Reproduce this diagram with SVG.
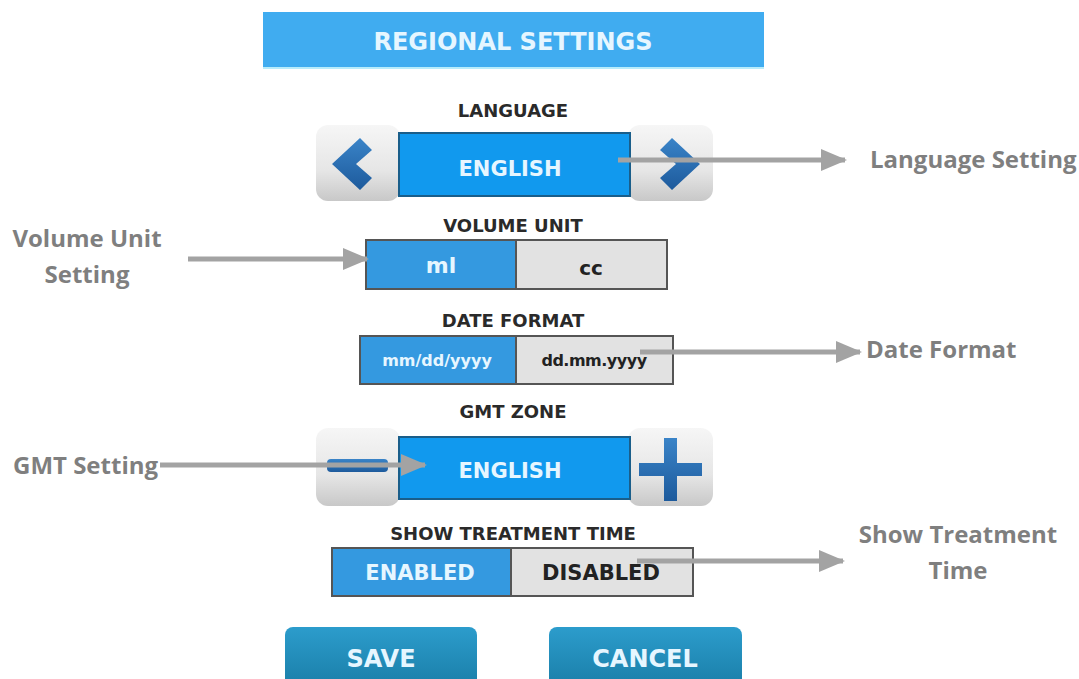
<svg xmlns="http://www.w3.org/2000/svg" width="1079" height="679" viewBox="0 0 1079 679">
<defs>
<style>
.ui{font-family:"DejaVu Sans","Liberation Sans",sans-serif;font-weight:bold;text-anchor:middle}
.lbl{font-size:18px;fill:#2a2a2a}
.wt{fill:#e6f6ff}
.call{font-family:"Open Sans","Liberation Sans",sans-serif;font-weight:bold;font-size:24px;fill:#7f7f7f}
.conn{stroke:#a3a3a3;stroke-width:5;fill:none}
.seg-on{fill:#3499e0;stroke:#555;stroke-width:2}
</style>
<linearGradient id="btn" x1="0" y1="0" x2="0" y2="1">
<stop offset="0" stop-color="#f6f6f6"/><stop offset="0.6" stop-color="#e6e6e6"/><stop offset="1" stop-color="#c8c8c8"/>
</linearGradient>
<linearGradient id="ico" x1="0" y1="0" x2="0" y2="1">
<stop offset="0" stop-color="#3a84c8"/><stop offset="1" stop-color="#1d5a9c"/>
</linearGradient>
<linearGradient id="act" x1="0" y1="0" x2="0" y2="1">
<stop offset="0" stop-color="#2c9ccc"/><stop offset="1" stop-color="#1a7ea8"/>
</linearGradient>
<marker id="ah" markerUnits="userSpaceOnUse" markerWidth="26" markerHeight="22" refX="24" refY="11" orient="auto">
<path d="M0,0 L26,11 L0,22 Z" fill="#a3a3a3"/>
</marker>
</defs>

<g id="header">
<rect x="263" y="12" width="501" height="57" fill="#40acf0"/>
<rect x="263" y="67" width="501" height="2" fill="#b8ecfb"/>
<text class="ui wt" x="513" y="50" font-size="24">REGIONAL SETTINGS</text>
</g>

<g id="language">
<text class="ui lbl" x="513" y="117">LANGUAGE</text>
<rect x="316" y="125" width="84" height="76" rx="12" fill="url(#btn)"/>
<rect x="628" y="125" width="85" height="76" rx="12" fill="url(#btn)"/>
<rect x="399" y="133" width="231" height="63" fill="#1199ee" stroke="#1a5e8a" stroke-width="2"/>
<polygon points="360,138 332,164 360,190 372,178 356,164 372,150" fill="url(#ico)"/>
<polygon points="672,138 700,164 672,190 660,178 676,164 660,150" fill="url(#ico)"/>
<text class="ui wt" x="510" y="176" font-size="21">ENGLISH</text>
</g>

<g id="volume">
<text class="ui lbl" x="513" y="232">VOLUME UNIT</text>
<rect x="366" y="240" width="301" height="49" fill="#e2e2e2" stroke="#555" stroke-width="2"/>
<rect x="366" y="240" width="150" height="49" class="seg-on"/>
<text class="ui wt" x="441" y="273" font-size="22">ml</text>
<text class="ui" x="591" y="275" font-size="20" fill="#222">cc</text>
</g>

<g id="date">
<text class="ui lbl" x="513" y="327">DATE FORMAT</text>
<rect x="360" y="336" width="313" height="48" fill="#e2e2e2" stroke="#555" stroke-width="2"/>
<rect x="360" y="336" width="156" height="48" class="seg-on"/>
<text class="ui wt" x="437" y="366" font-size="16">mm/dd/yyyy</text>
<text class="ui" x="594" y="366" font-size="16" fill="#222" letter-spacing="-0.5">dd.mm.yyyy</text>
</g>

<g id="gmt">
<text class="ui lbl" x="513" y="418">GMT ZONE</text>
<rect x="316" y="428" width="84" height="78" rx="12" fill="url(#btn)"/>
<rect x="628" y="428" width="85" height="78" rx="12" fill="url(#btn)"/>
<rect x="399" y="437" width="231" height="62" fill="#1199ee" stroke="#1a5e8a" stroke-width="2"/>
<rect x="327" y="459" width="61" height="13" rx="4" fill="url(#ico)"/>
<path d="M664,438 h13 v25 h25 v13 h-25 v25 h-13 v-25 h-25 v-13 h25 z" fill="url(#ico)"/>
<text class="ui wt" x="510" y="478" font-size="21">ENGLISH</text>
</g>

<g id="treatment">
<text class="ui lbl" x="513" y="540">SHOW TREATMENT TIME</text>
<rect x="332" y="548" width="361" height="48" fill="#e2e2e2" stroke="#555" stroke-width="2"/>
<rect x="332" y="548" width="179" height="48" class="seg-on"/>
<text class="ui wt" x="420" y="580" font-size="21">ENABLED</text>
<text class="ui" x="601" y="580" font-size="21" fill="#222">DISABLED</text>
</g>

<g id="save">
<rect x="285" y="627" width="192" height="60" rx="8" fill="url(#act)"/>
<text class="ui wt" x="381" y="667" font-size="24">SAVE</text>
</g>
<g id="cancel">
<rect x="549" y="627" width="193" height="60" rx="8" fill="url(#act)"/>
<text class="ui wt" x="645" y="667" font-size="24">CANCEL</text>
</g>

<g id="callout-labels">
<text class="call" x="870" y="168">Language Setting</text>
<text class="call" x="87" y="247" text-anchor="middle">Volume Unit</text>
<text class="call" x="87" y="283" text-anchor="middle">Setting</text>
<text class="call" x="866" y="358">Date Format</text>
<text class="call" x="13" y="474">GMT Setting</text>
<text class="call" x="958" y="543" text-anchor="middle">Show Treatment</text>
<text class="call" x="958" y="579" text-anchor="middle">Time</text>
</g>

<g id="connectors">
<line class="conn" x1="618" y1="160" x2="845" y2="160" marker-end="url(#ah)"/>
<line class="conn" x1="188" y1="259" x2="367" y2="259" marker-end="url(#ah)"/>
<line class="conn" x1="640" y1="352" x2="860" y2="352" marker-end="url(#ah)"/>
<line class="conn" x1="160" y1="465" x2="425" y2="465" marker-end="url(#ah)"/>
<line class="conn" x1="637" y1="561" x2="843" y2="561" marker-end="url(#ah)"/>
</g>
</svg>
